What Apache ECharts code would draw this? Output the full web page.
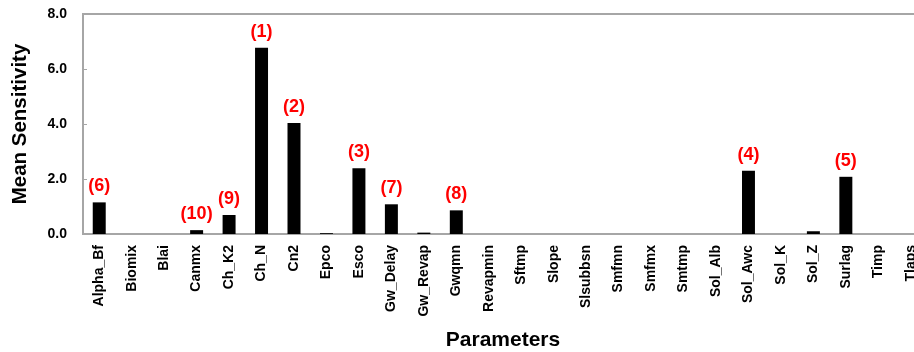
<!DOCTYPE html>
<html>
<head>
<meta charset="utf-8">
<script src="https://cdn.jsdelivr.net/npm/echarts@6/dist/echarts.min.js"></script>
<style>
  html, body { margin: 0; padding: 0; background: #fff; overflow: hidden; }
  /* The plot runs a little past the right edge of the window */
  #chart { width: 927px; height: 352px; }
</style>
</head>
<body>
<div id="chart"></div>
<script>
// Parameter names (x axis)
const parameters = ['Alpha_Bf', 'Biomix', 'Blai', 'Canmx', 'Ch_K2', 'Ch_N', 'Cn2', 'Epco', 'Esco',
  'Gw_Delay', 'Gw_Revap', 'Gwqmn', 'Revapmin', 'Sftmp', 'Slope', 'Slsubbsn', 'Smfmn', 'Smfmx',
  'Smtmp', 'Sol_Alb', 'Sol_Awc', 'Sol_K', 'Sol_Z', 'Surlag', 'Timp', 'Tlaps'];

// Mean sensitivity for each parameter
const meanSensitivity = [1.15, 0, 0, 0.14, 0.69, 6.77, 4.04, 0.03, 2.39,
  1.08, 0.05, 0.86, 0, 0, 0, 0, 0, 0,
  0, 0, 2.30, 0, 0.10, 2.08, 0, 0];

// Sensitivity rank shown above the ten most sensitive parameters
const ranks = ['6', '', '', '10', '9', '1', '2', '', '3',
  '7', '', '8', '', '', '', '', '', '',
  '', '', '4', '', '', '5', '', ''];

// Y axis ticks
const yTicks = [0, 2, 4, 6, 8];

const chart = echarts.init(document.getElementById('chart'));
const axisGray = '#a6a6a6';
const font = 'Arial, "Liberation Sans", sans-serif';

chart.setOption({
  animation: false,
  grid: {
    left: 83, top: 14, right: 0, bottom: 118,
    outerBoundsMode: 'none',
    containLabel: false,
    show: true, borderColor: axisGray, borderWidth: 2, backgroundColor: 'transparent'
  },
  xAxis: {
    type: 'category',
    data: parameters,
    name: 'Parameters',
    nameLocation: 'middle',
    nameGap: 96,
    nameTextStyle: { fontFamily: font, fontWeight: 'bold', fontSize: 21, color: '#000', padding: [0, 0, 0, -4] },
    axisLine: { lineStyle: { color: axisGray, width: 2 } },
    axisTick: { inside: true, length: 4, lineStyle: { color: axisGray } },
    axisLabel: {
      rotate: 90, interval: 0, margin: 11,
      fontFamily: font, fontWeight: 'bold', fontSize: 14, color: '#000'
    }
  },
  yAxis: {
    type: 'value',
    min: yTicks[0],
    max: yTicks[yTicks.length - 1],
    interval: yTicks[1] - yTicks[0],
    name: 'Mean Sensitivity',
    nameLocation: 'middle',
    nameGap: 52,
    nameRotate: 90,
    nameTextStyle: { fontFamily: font, fontWeight: 'bold', fontSize: 20.5, color: '#000' },
    axisLine: { show: true, lineStyle: { color: axisGray, width: 2 } },
    axisTick: { show: true, inside: true, length: 4, lineStyle: { color: axisGray } },
    splitLine: { show: false },
    axisLabel: {
      margin: 16,
      fontFamily: font, fontWeight: 'bold', fontSize: 14, color: '#000',
      formatter: v => v.toFixed(1)
    }
  },
  series: [{
    type: 'bar',
    data: meanSensitivity,
    barWidth: '40%',
    itemStyle: { color: '#000' },
    label: {
      show: true,
      position: 'top',
      distance: 7,
      fontFamily: font, fontWeight: 'bold', fontSize: 18, color: '#ff0000',
      formatter: p => ranks[p.dataIndex] ? '(' + ranks[p.dataIndex] + ')' : ''
    }
  }]
});
</script>
</body>
</html>
